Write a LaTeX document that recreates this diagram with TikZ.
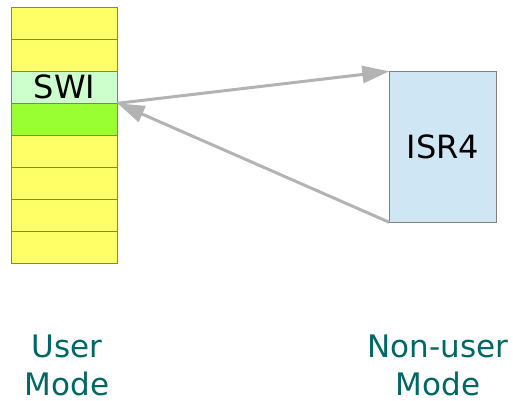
\documentclass[tikz,border=0pt]{standalone}
\usepackage{fontspec}
\setmainfont{DejaVu Sans}
\usetikzlibrary{arrows.meta}
\definecolor{cellyellow}{HTML}{FFFF66}
\definecolor{cellswi}{HTML}{CCFFCC}
\definecolor{cellgreen}{HTML}{99FF33}
\definecolor{isrblue}{HTML}{CFE7F5}
\definecolor{boxline}{HTML}{808080}
\definecolor{arrowgray}{HTML}{B3B3B3}
\definecolor{modeteal}{HTML}{006666}
\tikzset{
  cell/.style={draw=boxline, line width=0.8pt, fill=cellyellow, anchor=north west,
    minimum width=106pt, minimum height=32pt, inner sep=0pt, outer sep=0pt},
  isrbox/.style={draw=boxline, line width=0.8pt, fill=isrblue, anchor=north west,
    minimum width=107pt, minimum height=151pt, inner sep=0pt, outer sep=0pt},
  flow/.style={draw=arrowgray, line width=3pt,
    -{Triangle[length=27pt, width=17pt]}},
  modelabel/.style={text=modeteal, align=center, inner sep=0pt,
    font=\fontsize{31}{38}\selectfont},
  bigtext/.style={font=\fontsize{32}{38}\selectfont}
}
\begin{document}
\begin{tikzpicture}[x=1pt, y=-1pt]
  \useasboundingbox (0,0) rectangle (513,400);
  % stack of eight slots
  \node[cell] (c1) at (11.5,7.3) {};
  \node[cell] (c2) at (11.5,39.3) {};
  \node[cell, fill=cellswi, bigtext] (swi) at (11.5,71.3) {SWI};
  \node[cell, fill=cellgreen] (c4) at (11.5,103.3) {};
  \node[cell] (c5) at (11.5,135.3) {};
  \node[cell] (c6) at (11.5,167.3) {};
  \node[cell] (c7) at (11.5,199.3) {};
  \node[cell] (c8) at (11.5,231.3) {};
  % interrupt service routine
  \node[isrbox, bigtext] (isr) at (389.3,71.3) {ISR4};
  % call and return
  \draw[flow] (swi.south east) -- (isr.north west);
  \draw[flow] (isr.south west) -- (swi.south east);
  % mode captions
  \node[modelabel] (user) at (67,365) {User\\Mode};
  \node[modelabel] (nonuser) at (438,365) {Non-user\\Mode};
\end{tikzpicture}
\end{document}
